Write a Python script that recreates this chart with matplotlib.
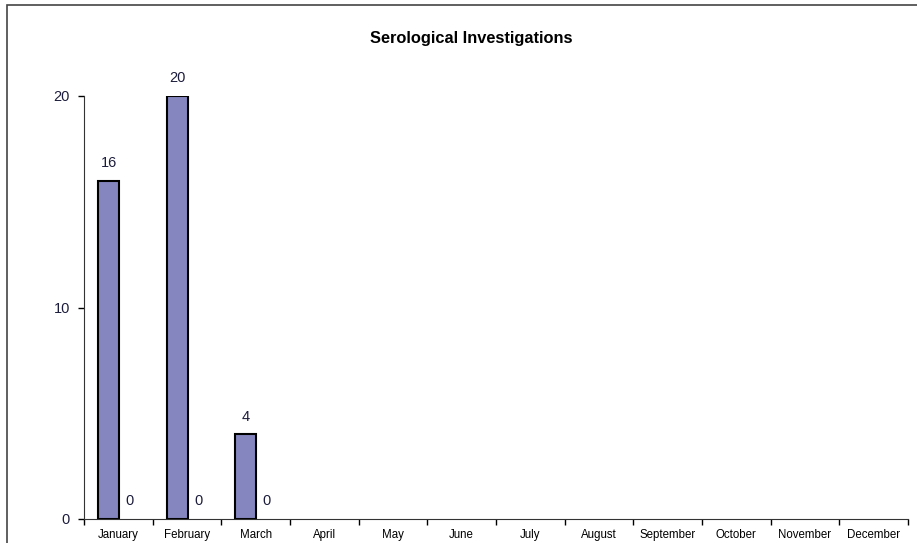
import numpy as np
import matplotlib.pyplot as plt
from matplotlib.patches import Rectangle

plt.rcParams['font.family'] = ['Liberation Sans', 'DejaVu Sans']

months = ['January', 'February', 'March', 'April', 'May', 'June', 'July',
          'August', 'September', 'October', 'November', 'December']
series_a = [16, 20, 4]
series_b = [0, 0, 0]
y_ticks = [0, 10, 20]

fig = plt.figure(figsize=(9.17, 5.43), dpi=100)
ax = fig.add_axes([84 / 917, 1 - 519 / 543, (908 - 84) / 917, (519 - 96) / 543])

# chart frame, cropped on the right and bottom like the source
fig.patches.append(Rectangle((7 / 917, -0.1), 1.2, 1 - 5 / 543 + 0.1,
                             transform=fig.transFigure, fill=False,
                             edgecolor='#444444', linewidth=1.2))

x = np.arange(len(months))
w = 0.306
xa = x[:len(series_a)] - w / 2 + 0.01
xb = x[:len(series_b)] + w / 2 + 0.01
ax.bar(xa, series_a, width=w, color='#8586C0', edgecolor='black', linewidth=1.5)
ax.bar(xb, series_b, width=w, color='#8586C0', edgecolor='none')

for xi, v in zip(xa, series_a):
    ax.text(xi, v + 0.5, str(v), ha='center', va='bottom', fontsize=10.5, color='#1c1c3c')
for xi, v in zip(xb, series_b):
    ax.text(xi, v + 0.5, str(v), ha='center', va='bottom', fontsize=10.5, color='#1c1c3c')

ax.set_xlim(-0.5, len(months) - 0.5)
ax.set_ylim(0, 20)
ax.set_yticks(y_ticks)
ax.set_yticklabels([str(t) for t in y_ticks], fontsize=10.5, color='#1c1c3c')
ax.set_xticks(x)
ax.set_xticklabels(months, fontsize=8.3)
ax.set_xticks(np.arange(len(months) + 1) - 0.5, minor=True)
ax.tick_params(axis='x', which='major', length=0, pad=7)
ax.tick_params(axis='x', which='minor', length=4, direction='out', width=1)
ax.tick_params(axis='y', length=4, direction='out', width=1, pad=6)

for s in ['top', 'right']:
    ax.spines[s].set_visible(False)
ax.spines['left'].set_color('#333333')
ax.spines['bottom'].set_color('#333333')

fig.text(471 / 917, 1 - 38 / 543, 'Serological Investigations', ha='center', va='center',
         fontsize=11.8, fontweight='bold')

fig.savefig('out.png', dpi=100)
